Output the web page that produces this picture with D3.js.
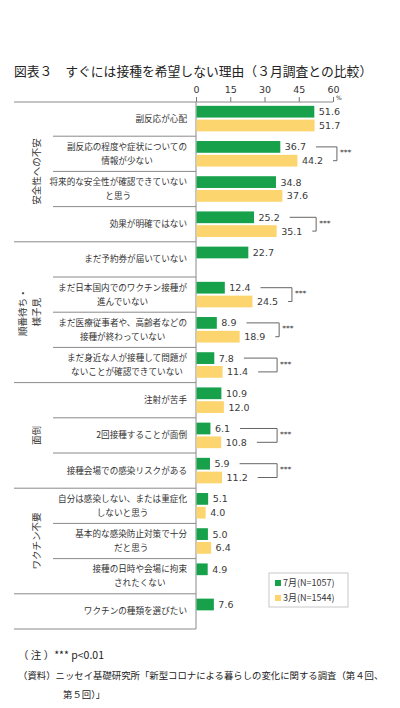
<!DOCTYPE html>
<html>
<head>
<meta charset="utf-8">
<script src="https://cdn.jsdelivr.net/npm/d3@7"></script>
<style>
  body { margin: 0; background: #fff; }
  svg text { font-family: "Noto Sans CJK JP", sans-serif; }
</style>
</head>
<body>
<div id="chart"></div>
<script>
// Data
const categories = [
    "副反応が心配",
    "副反応の程度や症状についての\n情報が少ない",
    "将来的な安全性が確認できていない\nと思う",
    "効果が明確ではない",
    "まだ予約券が届いていない",
    "まだ日本国内でのワクチン接種が\n進んでいない",
    "まだ医療従事者や、高齢者などの\n接種が終わっていない",
    "まだ身近な人が接種して問題が\nないことが確認できていない",
    "注射が苦手",
    "2回接種することが面倒",
    "接種会場での感染リスクがある",
    "自分は感染しない、または重症化\nしないと思う",
    "基本的な感染防止対策で十分\nだと思う",
    "接種の日時や会場に拘束\nされたくない",
    "ワクチンの種類を選びたい"
];
const july  = [51.6, 36.7, 34.8, 25.2, 22.7, 12.4, 8.9, 7.8, 10.9, 6.1, 5.9, 5.1, 5.0, 4.9, 7.6];
const march = [51.7, 44.2, 37.6, 35.1, null, 24.5, 18.9, 11.4, 12.0, 10.8, 11.2, 4.0, 6.4, null, null];
const significant = [false, true, false, true, false, true, true, true, false, true, true, false, false, false, false];

const groupNames = ["安全性への不安", "順番待ち・\n様子見", "面倒", "ワクチン不要"];
const groupFirst = [0, 4, 8, 11];
const groupLast  = [3, 7, 10, 13];

const tickValues = [0, 15, 30, 45, 60];
const seriesNames = ["7月(N=1057)", "3月(N=1544)"];
const seriesColors = ["#16a14a", "#fdd56e"];

const W = 400, H = 708;
const svg = d3.select("#chart").append("svg")
    .attr("width", W).attr("height", H);

// Scales
const x = d3.scaleLinear().domain([0, 60]).range([196, 333]);
const y = d3.scaleBand().domain(d3.range(categories.length)).range([101, 629]);
const sub = d3.scaleBand().domain([0, 1]).range([0, y.bandwidth()])
    .paddingInner(0.15).paddingOuter(0.35);

// Title
svg.append("text")
    .attr("x", 14).attr("y", 76)
    .style("font-size", "12.8px").attr("fill", "#222")
    .text("図表３　すぐには接種を希望しない理由（３月調査との比較）");

// Top axis
const axis = svg.append("g")
    .attr("transform", `translate(0,102)`)
    .call(d3.axisTop(x).tickValues(tickValues).tickSize(5).tickSizeOuter(0).tickPadding(4));
axis.select(".domain").remove();
axis.selectAll("line").attr("stroke", "#777");
axis.selectAll("text").attr("fill", "#333")
    .style("font-family", "DejaVu Sans").style("font-size", "9.5px");
svg.append("text").attr("x", 336).attr("y", 100)
    .style("font-family", "DejaVu Sans").style("font-size", "6px").attr("fill", "#333").text("%");

// Frame lines
const lines = svg.append("g").attr("stroke", "#8a8a8a").attr("stroke-width", 1);
lines.append("line").attr("x1", 14).attr("x2", x(60)).attr("y1", 102).attr("y2", 102);
lines.append("line").attr("x1", x(0)).attr("x2", x(0)).attr("y1", 102).attr("y2", y.range()[1]);
d3.range(1, categories.length + 1).forEach(i => {
    const full = i === categories.length || groupFirst.includes(i) || groupLast.includes(i - 1);
    const yy = i === categories.length ? y.range()[1] : y(i);
    lines.append("line")
        .attr("x1", full ? 14 : 53).attr("x2", x(0))
        .attr("y1", yy).attr("y2", yy);
});

// Group labels (vertical)
groupNames.forEach((g, k) => {
    const parts = g.split("\n");
    const cy = (y(groupFirst[k]) + y(groupLast[k]) + y.bandwidth()) / 2;
    const cx = 37 - (parts.length - 1) * 14;
    const t = svg.append("text")
        .attr("transform", `translate(${cx},${cy}) rotate(-90)`)
        .attr("text-anchor", "middle")
        .style("font-size", "9.5px").attr("fill", "#333");
    parts.forEach((p, j) => {
        t.append("tspan").attr("x", 0).attr("dy", j === 0 ? "0.35em" : "1.45em").text(p);
    });
});

// Category labels
categories.forEach((c, i) => {
    const parts = c.split("\n");
    const g = svg.append("g");
    if (parts.length === 1) {
        g.append("text").attr("x", 187).attr("y", y(i) + y.bandwidth() / 2)
            .attr("dy", "0.35em").attr("text-anchor", "end")
            .style("font-size", "8.6px").attr("fill", "#333").text(c);
    } else {
        const ts = parts.map((p, j) => g.append("text")
            .attr("y", y(i) + sub(j) + sub.bandwidth() / 2).attr("dy", "0.35em")
            .attr("text-anchor", "middle")
            .style("font-size", "8.6px").attr("fill", "#333").text(p));
        const wmax = d3.max(ts, t => t.node().getComputedTextLength());
        ts.forEach(t => t.attr("x", 187 - wmax / 2));
    }
});

// Bars and value labels
const labelEnd = [];
[july, march].forEach((series, s) => {
    labelEnd[s] = [];
    series.forEach((v, i) => {
        if (v == null) return;
        svg.append("rect")
            .attr("x", x(0) + 0.5).attr("y", y(i) + sub(s))
            .attr("width", x(v) - x(0)).attr("height", sub.bandwidth())
            .attr("fill", seriesColors[s]);
        const t = svg.append("text")
            .attr("x", x(v) + 5).attr("y", y(i) + sub(s) + sub.bandwidth() / 2)
            .attr("dy", "0.36em")
            .style("font-family", "DejaVu Sans").style("font-size", "9.5px")
            .attr("fill", "#3a3a3a").text(v.toFixed(1));
        labelEnd[s][i] = x(v) + 5 + t.node().getComputedTextLength();
    });
});

// Significance brackets
significant.forEach((sig, i) => {
    if (!sig) return;
    const y1 = y(i) + sub(0) + sub.bandwidth() / 2;
    const y2 = y(i) + sub(1) + sub.bandwidth() / 2;
    const bx = x(Math.max(july[i], march[i], 18)) + 40;
    svg.append("path")
        .attr("d", `M${labelEnd[0][i] + 10},${y1}H${bx}V${y2}H${labelEnd[1][i] + 10}`)
        .attr("fill", "none").attr("stroke", "#666").attr("stroke-width", 1);
    svg.append("text")
        .attr("x", bx + 3).attr("y", (y1 + y2) / 2 - 1).attr("dy", "0.35em")
        .style("font-family", "DejaVu Sans").style("font-size", "7.5px")
        .attr("fill", "#333").text("***");
});

// Legend
const lg = svg.append("g").attr("transform", "translate(269,573)");
lg.append("rect").attr("width", 79).attr("height", 34)
    .attr("fill", "#fff").attr("stroke", "#c8c8c8");
seriesNames.forEach((n, s) => {
    lg.append("rect").attr("x", 6).attr("y", 7 + s * 15).attr("width", 6).attr("height", 6)
        .attr("fill", seriesColors[s]);
    lg.append("text").attr("x", 14).attr("y", 10 + s * 15).attr("dy", "0.35em")
        .style("font-size", "9px").attr("fill", "#333").text(n);
});

// Notes
const notes = svg.append("g").attr("fill", "#222");
notes.append("text").attr("x", 18).attr("y", 659)
    .style("font-size", "10.5px").text("（ 注 ）*** p<0.01");
notes.append("text").attr("x", 18).attr("y", 679)
    .style("font-size", "9.4px")
    .text("（資料）ニッセイ基礎研究所「新型コロナによる暮らしの変化に関する調査（第４回、");
notes.append("text").attr("x", 63).attr("y", 698)
    .style("font-size", "9.4px").text("第５回）」");
</script>
</body>
</html>
